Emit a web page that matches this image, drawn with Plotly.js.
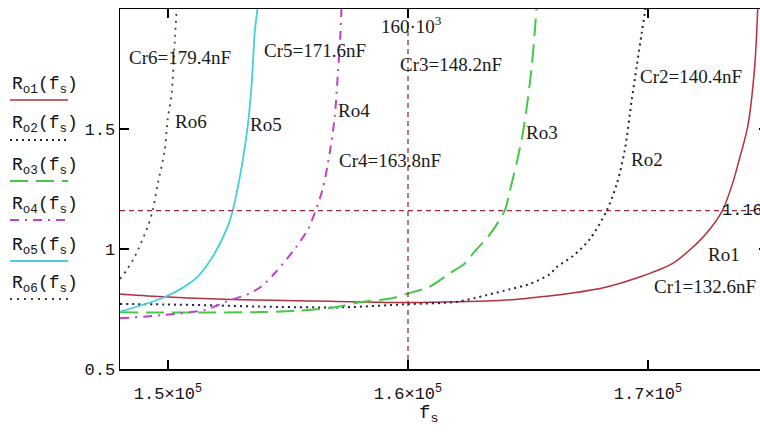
<!DOCTYPE html>
<html>
<head>
<meta charset="utf-8">
<script src="https://cdn.plot.ly/plotly-3.0.1.min.js"></script>
<style>
html,body{margin:0;padding:0;overflow:hidden;background:#fff;}
#chart{width:770px;height:432px;}
</style>
</head>
<body>
<div id="chart"></div>
<script>
// ---- data (fs in Hz, Ro dimensionless) ----
const fs1 = [148000,149154,150821,152654,154862,156737,160000,162154,163946,165071,166863,168279,169654,171029,171738,172446,173100,173529,173821,174154,174446,174571];
const ro1 = [0.812,0.804,0.796,0.790,0.785,0.782,0.777,0.780,0.786,0.796,0.817,0.842,0.883,0.940,0.996,1.067,1.160,1.275,1.380,1.510,1.760,2.000];

const fs2 = [148000,149862,151946,153821,157279,159946,162029,163279,164238,165071,165904,166196,166863,167571,168279,168696,169029,169321,169529,169738,169863,169988];
const ro2 = [0.771,0.769,0.765,0.760,0.757,0.770,0.780,0.808,0.832,0.854,0.895,0.925,0.970,1.040,1.160,1.270,1.410,1.620,1.760,1.900,1.980,2.060];

const fs3 = [148000,151321,153821,155487,156946,157987,159321,160000,160904,161738,162363,162779,163404,164029,164238,164529,164779,164988,165154,165279,165363];
const ro3 = [0.736,0.735,0.737,0.743,0.757,0.778,0.795,0.815,0.843,0.899,0.940,0.990,1.060,1.160,1.240,1.360,1.480,1.620,1.760,1.900,2.020];

const fs4 = [148000,149779,151529,152487,153404,153904,154446,155279,155821,156112,156446,156737,156946,157071,157175,157237];
const ro4 = [0.711,0.725,0.746,0.783,0.815,0.845,0.899,1.000,1.080,1.150,1.250,1.400,1.550,1.720,1.880,2.020];

const fs5 = [148000,149154,149862,150571,151237,151946,152487,152696,153071,153321,153487,153612,153737];
const ro5 = [0.739,0.774,0.800,0.836,0.885,0.982,1.093,1.160,1.343,1.510,1.690,1.900,2.010];

const fs6 = [148000,148279,148612,149154,149362,149571,149862,149987,150154,150279,150362];
const ro6 = [0.875,0.912,0.968,1.093,1.160,1.270,1.410,1.540,1.650,1.860,2.000];

const xTickVals = [150000,160000,170000];
const xTickText = ['1.5×10<sup>5</sup>','1.6×10<sup>5</sup>','1.7×10<sup>5</sup>'];
const yTickVals = [0.5,1,1.5];
const yTickText = ['0.5','1','1.5'];

const markerF = 160000;   // vertical marker
const markerR = 1.16;     // horizontal marker

const seriesNames = ['R<sub>o1</sub>(f<sub>s</sub>)','R<sub>o2</sub>(f<sub>s</sub>)','R<sub>o3</sub>(f<sub>s</sub>)','R<sub>o4</sub>(f<sub>s</sub>)','R<sub>o5</sub>(f<sub>s</sub>)','R<sub>o6</sub>(f<sub>s</sub>)'];
const curveLabels = ['Ro1','Ro2','Ro3','Ro4','Ro5','Ro6'];
const capLabels = ['Cr1=132.6nF','Cr2=140.4nF','Cr3=148.2nF','Cr4=163.8nF','Cr5=171.6nF','Cr6=179.4nF'];

// ---- styles ----
const colors = ['#b5303a','#22224e','#46c846','#c040c8','#44d0dc','#4a4424'];
const dashes = ['solid','2px,4px','18px,8px','9px,6px,2px,6px','solid','2px,5px'];
const widths = [1.5,2,2,2,1.8,1.8];
const markColor = '#9a2a3a';

const xs = [fs1,fs2,fs3,fs4,fs5,fs6];
const ys = [ro1,ro2,ro3,ro4,ro5,ro6];

const traces = xs.map((x,i)=>({
  x:x, y:ys[i], type:'scatter', mode:'lines', name:curveLabels[i],
  line:{color:colors[i], width:widths[i], dash:dashes[i], shape:'spline', smoothing:0.8},
  hoverinfo:'skip', showlegend:false
}));
// marker lines (Mathcad markers)
traces.push({x:[markerF,markerF], y:[0.5,2.0], type:'scatter', mode:'lines',
  line:{color:markColor, width:1.3, dash:'5px,4px'}, showlegend:false, hoverinfo:'skip'});
traces.push({x:[148000,175000], y:[markerR,markerR], type:'scatter', mode:'lines',
  line:{color:markColor, width:1.3, dash:'5px,4px'}, showlegend:false, hoverinfo:'skip'});

// pixel helpers for layout placement only
const L=120, W=648, T=9, H=360;
const xp = px => (px-L)/W;
const yp = py => (T+H-py)/H;

const serif = {family:'Liberation Serif, Times New Roman, serif', size:19, color:'#1a1a1a'};
const mono = {family:'Liberation Mono, Courier New, monospace', size:17, color:'#111'};

const annotations = [];
// curve labels [f, R]
const curvePos = [[173154,0.977],[169967,1.373],[165592,1.485],[157737,1.579],[154092,1.519],[150946,1.531]];
const capPos = [[172363,0.844],[171800,1.719],[161779,1.767],[159237,1.369],[156133,1.829],[150508,1.800]];
curvePos.forEach((p,i)=>annotations.push({x:p[0],y:p[1],xref:'x',yref:'y',text:curveLabels[i],showarrow:false,font:serif,xanchor:'center',yanchor:'middle'}));
capPos.forEach((p,i)=>annotations.push({x:p[0],y:p[1],xref:'x',yref:'y',text:capLabels[i],showarrow:false,font:serif,xanchor:'center',yanchor:'middle'}));
annotations.push({x:markerF,y:1.935,xref:'x',yref:'y',xshift:-29,text:'160·10<sup>3</sup>',showarrow:false,font:serif,xanchor:'left',yanchor:'middle'});
annotations.push({x:173000,y:markerR,xref:'x',yref:'y',text:'1.16',showarrow:false,font:mono,xanchor:'left',yanchor:'middle'});
// axis title
annotations.push({x:xp(428),y:yp(414),xref:'paper',yref:'paper',text:'f<sub>s</sub>',showarrow:false,font:{family:'Liberation Mono, monospace',size:19,color:'#111'},xanchor:'center',yanchor:'middle'});

// legend (Mathcad style: name above line sample)
const sampleY = [100,140,181,220,261,299];
const shapes = [];
seriesNames.forEach((n,i)=>{
  annotations.push({x:xp(10),y:yp(sampleY[i]-15),xref:'paper',yref:'paper',text:n,showarrow:false,
    font:{family:'Liberation Mono, Courier New, monospace',size:18,color:'#111'},xanchor:'left',yanchor:'middle'});
  shapes.push({type:'line',xref:'paper',yref:'paper',x0:xp(10),x1:xp(68),y0:yp(sampleY[i]),y1:yp(sampleY[i]),
    line:{color:colors[i],width:widths[i],dash:dashes[i]}});
});

const layout = {
  width:770, height:432,
  margin:{l:L, r:770-L-W, t:T, b:432-T-H},
  paper_bgcolor:'#fff', plot_bgcolor:'#fff',
  xaxis:{range:[148000,175000], showgrid:false, zeroline:false, showline:true, linecolor:'#000', linewidth:1.5,
    mirror:'ticks', ticks:'inside', ticklen:9, tickwidth:1.5, tickcolor:'#000',
    tickvals:xTickVals, ticktext:xTickText, tickfont:mono, ticklabelstandoff:8},
  yaxis:{range:[0.5,2.0], showgrid:false, zeroline:false, showline:true, linecolor:'#000', linewidth:1.5,
    mirror:'ticks', ticks:'inside', ticklen:9, tickwidth:1.5, tickcolor:'#000',
    tickvals:yTickVals, ticktext:yTickText, tickfont:mono, ticklabelstandoff:0},
  annotations:annotations, shapes:shapes, showlegend:false
};

Plotly.newPlot('chart', traces, layout, {staticPlot:true, displayModeBar:false});
</script>
</body>
</html>
